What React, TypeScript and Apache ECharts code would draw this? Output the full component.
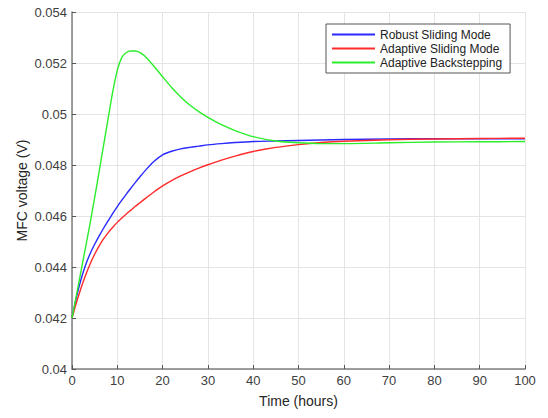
import React, { useEffect, useRef } from "react";
import * as echarts from "echarts";

const times = [0, 1, 2, 3, 4, 5, 6, 7, 8, 9, 10, 11, 12, 13, 14, 15, 16, 18, 20, 22, 24, 26, 28, 30, 33, 36, 40, 45, 50, 55, 60, 70, 80, 90, 100];

const robustSliding = [0.042, 0.04282, 0.04352, 0.04408, 0.04452, 0.04489, 0.04522, 0.04553, 0.04582, 0.0461, 0.04637, 0.04662, 0.04686, 0.04709, 0.04732, 0.04754, 0.04775, 0.04813, 0.0484, 0.04854, 0.04863, 0.04869, 0.04874, 0.04879, 0.04884, 0.04888, 0.04892, 0.04894, 0.04896, 0.04898, 0.049, 0.04902, 0.04903, 0.04903, 0.04903];

const adaptiveSliding = [0.042, 0.04262, 0.04318, 0.04368, 0.04412, 0.0445, 0.04483, 0.04511, 0.04535, 0.04556, 0.04575, 0.04592, 0.04608, 0.04623, 0.04638, 0.04652, 0.04666, 0.04693, 0.04718, 0.04739, 0.04757, 0.04773, 0.04788, 0.04801, 0.04819, 0.04835, 0.04853, 0.04869, 0.0488, 0.04888, 0.04893, 0.04899, 0.04902, 0.04904, 0.04905];

const adaptiveBackstepping = [0.042, 0.04292, 0.04385, 0.04478, 0.04572, 0.04672, 0.04775, 0.0488, 0.04985, 0.05088, 0.05172, 0.05222, 0.05241, 0.05247, 0.05247, 0.05241, 0.05228, 0.05189, 0.05146, 0.05104, 0.05067, 0.05035, 0.05009, 0.04987, 0.04958, 0.04935, 0.04911, 0.04894, 0.04887, 0.04884, 0.04884, 0.04887, 0.0489, 0.04891, 0.04892];

const seriesNames = ["Robust Sliding Mode", "Adaptive Sliding Mode", "Adaptive Backstepping"];
const seriesColors = ["#2a2aff", "#ff2a2a", "#2aee2a"];

const FONT = "Liberation Sans, Arial, Helvetica, sans-serif";

export default function App() {
  const ref = useRef<HTMLDivElement>(null);
  useEffect(() => {
    if (!ref.current) return;
    const chart = echarts.init(ref.current, undefined, { renderer: "svg" });
    const allData = [robustSliding, adaptiveSliding, adaptiveBackstepping];
    chart.setOption({
      animation: false,
      backgroundColor: "#ffffff",
      textStyle: { fontFamily: FONT },
      grid: { left: 72, right: 23, top: 12, bottom: 49, containLabel: false },
      legend: {
        left: 326,
        top: 24,
        orient: "vertical",
        backgroundColor: "#ffffff",
        borderColor: "#555555",
        borderWidth: 1,
        padding: [4, 8, 4, 6],
        itemGap: 1,
        itemWidth: 43,
        itemHeight: 2,
        icon: "rect",
        textStyle: { fontFamily: FONT, fontSize: 12, color: "#222222", lineHeight: 13 },
        data: seriesNames,
      },
      xAxis: {
        type: "value",
        min: 0,
        max: 100,
        interval: 10,
        name: "Time (hours)",
        nameLocation: "middle",
        nameGap: 25,
        nameMoveOverlap: false,
        nameTextStyle: { fontFamily: FONT, fontSize: 14, color: "#262626" },
        axisLine: { show: true, onZero: false, lineStyle: { color: "#7f7f7f", width: 1.5 } },
        axisTick: { show: true, inside: true, length: 4, lineStyle: { color: "#555555" } },
        axisLabel: { fontFamily: FONT, fontSize: 13, color: "#404040", margin: 5 },
        splitLine: { show: true, lineStyle: { color: "#e4e4e4", width: 1 } },
      },
      yAxis: {
        type: "value",
        min: 0.04,
        max: 0.054,
        interval: 0.002,
        name: "MFC voltage (V)",
        nameLocation: "middle",
        nameGap: 43,
        nameMoveOverlap: false,
        nameTextStyle: { fontFamily: FONT, fontSize: 14, color: "#262626" },
        axisLine: { show: true, lineStyle: { color: "#7f7f7f", width: 1.5 } },
        axisTick: { show: true, inside: true, length: 4, lineStyle: { color: "#555555" } },
        axisLabel: {
          fontFamily: FONT,
          fontSize: 13,
          color: "#404040",
          margin: 5,
          formatter: (v: number) => String(+v.toFixed(3)),
        },
        splitLine: { show: true, lineStyle: { color: "#e4e4e4", width: 1 } },
      },
      series: seriesNames.map((name, i) => ({
        name,
        type: "line",
        smooth: 0.3,
        showSymbol: false,
        symbol: "none",
        lineStyle: { color: seriesColors[i], width: 1.4 },
        itemStyle: { color: seriesColors[i] },
        data: times.map((t, j) => [t, allData[i][j]]),
      })),
    });
    return () => chart.dispose();
  }, []);
  return (
    <div
      ref={ref}
      style={{ position: "fixed", left: 0, top: 0, width: 548, height: 418 }}
    />
  );
}
